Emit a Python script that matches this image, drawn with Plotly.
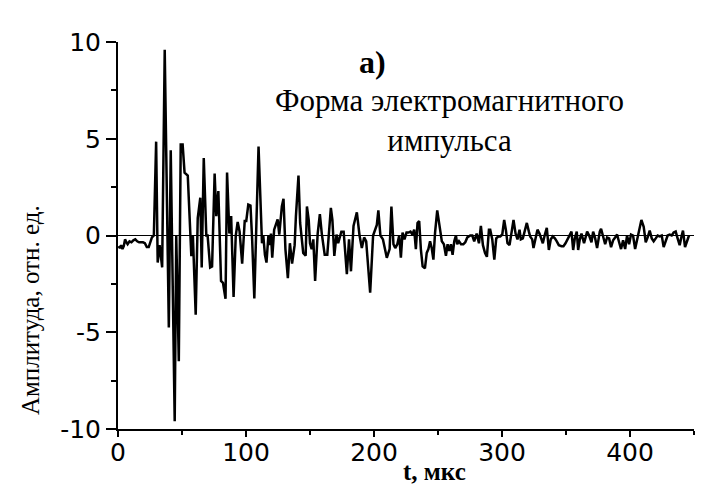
import plotly.graph_objects as go

# time, microseconds
t = [0.5, 1.5, 2.5, 3.5, 4.5, 5.5, 6.5, 7.5, 9, 10.5, 12, 13.5, 15, 16.5, 18, 19.5, 21, 22.5, 24, 25.5, 26.5, 28,
     29.8, 31, 32.5, 34.5, 36.5, 39.7, 41.2, 44.3, 45.5, 47.5, 49, 50.5, 52, 54.5, 57.3, 58.5, 59, 60.7,
     62.3, 64.3, 65.4, 67, 69, 70, 72, 73.5, 75.5, 76.8, 78.4, 80.5, 82, 84, 85.2, 87, 88.4, 90.3, 92, 93.5,
     95, 97, 99, 100.2, 101.8, 103.5, 104.8, 106.5, 109.8, 112.5, 113.5, 114.8, 116, 117.5, 118.6, 119.5,
     120.5, 122, 124.7, 126, 128, 129.3, 130.8, 132.7, 134.3, 136, 138, 139, 141, 142.3, 144.7, 146.6,
     147.6, 149, 150, 151.3, 152.6, 154, 156, 157.7, 159.2, 160.5, 161.5, 163.5, 166.3, 167.5, 169, 170.7,
     172, 174.5, 176.3, 178.8, 180.5, 182, 184, 186.6, 188.7, 190.5, 192.3, 193.9, 195.4, 197, 199.3, 200.6,
     202.2, 203.4, 205, 207, 208.6, 210, 212.2, 213.6, 215.2, 216.6, 218.2, 219.7, 221, 222.3, 223.8, 225.4,
     227, 228.5, 230, 231.4, 232.7, 234, 235.3, 236.6, 238, 239.8, 241.2, 242.5, 243.8, 245.1, 246.4, 247.7,
     249.4, 251.5, 253, 254.6, 256.2, 257.5, 258.8, 260.1, 261.4, 262.7, 264, 265, 266.4, 268, 269.8, 271.3,
     272.9, 275.2, 276.8, 278.3, 280.2, 282.0, 283.5, 285.1, 286.7, 288.2, 289.8, 290.8, 292.4, 294.0, 295.5,
     297.1, 298.6, 300.2, 301.7, 303.0, 304.3, 305.9, 307.5, 309.0, 310.6, 312.1, 313.7, 314.7, 316.3, 317.9,
     319.4, 321.0, 322.0, 323.6, 324.6, 326.2, 327.7, 329.3, 330.6, 331.9, 333.5, 335.0, 336.6, 338.1, 339.7,
     341.3, 342.8, 344.4, 346.5, 348.0, 349.6, 351.1, 352.7, 354.3, 355.6, 356.9, 358.4, 359.5, 360.8, 362.1,
     364.1, 366.5, 368.1, 369.9, 371.2, 372.8, 374.3, 376.4, 377.4, 379.0, 380.6, 382.1, 383.7, 385.2, 386.8,
     388.4, 389.9, 391.5, 393.0, 394.6, 396.2, 397.7, 399.3, 400.8, 402.4, 404.0, 405.5, 407.1, 408.9, 410.7,
     412.3, 413.8, 415.4, 417.0, 418.5, 420.1, 421.6, 423.2, 424.8, 426.3, 427.9, 429.4, 431.0, 432.6, 434.1,
     435.7, 437.2, 438.8, 440.4, 441.4, 443.0, 444.5, 446.1]

# amplitude, relative units
amp = [-0.55, -0.65, -0.5, -0.7, -0.55, -0.2, -0.35, -0.45, -0.3, -0.35, -0.25, -0.2, -0.3, -0.35, -0.35, -0.35, -0.4, -0.6, -0.6, -0.3, -0.1, 0.0,
       4.85, -1.4, -0.5, -1.65, 9.6, -4.75, 4.4, -9.6, 0.0, -6.5, 4.7, 4.7, 3.25, 3.1, -1.07, 0.0, -1.2, -4.1,
       0.9, 1.95, -1.65, 4.0, 0.0, 0.0, -1.65, -1.6, 3.2, 1.0, 2.3, -2.35, -2.45, -3.27, 3.25, 0.1, 1.0, -3.17, 0.0, 0.7,
       0.2, -1.45, 0.75, 0.75, 1.6, 1.55, -0.2, -3.25, 4.6, -0.4, 0.0, -1.0, -1.4, 0.0, -0.5, 0.1,
       -1.15, 0.3, 0.83, 0.05, 1.5, 1.9, -0.7, -2.2, -0.4, -1.45, -0.5, 1.0, 3.1, 0.65, -0.9, -1.05,
       1.5, 0.8, -0.4, -0.7, -0.2, -2.35, 0.1, 1.1, 0.1, -0.4, -1.0, -1.0, 1.43, 0.8, -1.05, 0.05,
       -0.4, 0.2, 0.2, -2.0, -0.2, -1.85, 0.5, 1.2, 0.0, -0.65, -0.1, -0.3, -1.75, -2.95, 0.0, 0.3,
       0.55, 1.3, 0.0, -0.2, -0.8, -1.15, -0.7, 1.5, -0.45, -0.65, -0.45, 0.0, -1.15, 0.15, -0.2, 0.15,
       0.15, 0.2, 0.05, 0.3, -0.7, 0.65, 0.75, -0.7, -1.6, -1.7, -0.9, -0.7, -0.3, -0.65, -1.25, 0.15,
       1.3, 0.4, -0.3, -0.45, -1.05, -0.45, -0.8, -0.45, -1.0, -0.3, 0.0, -0.45, -0.3, -0.45, -0.45, -0.35,
       -0.1, 0.0, 0.0, -0.3, 0.1, -0.4, 0.5, -0.5, -0.9, -1.1, 0.3, 0.3, -0.2, -1.25, -0.15,
       -0.05, -0.05, 0.05, 0.8, 0.3, -0.4, -0.5, 0.1, 0.8, 0.1, -0.2, 0.3, -0.2, -0.15, 0.3,
       0.65, 0.2, -0.05, -0.2, -0.65, -0.15, 0.3, 0.1, -0.2, -0.4, 0.05, 0.4, -0.75, -0.2, -0.05,
       -0.15, -0.3, -0.5, -0.55, -0.55, -0.4, -0.2, 0.05, 0.2, -0.75, -0.15, 0.2, -0.75, -0.2, 0.1,
       -0.4, 0.2, 0.0, -0.35, 0.2, -0.15, -0.65, 0.2, 0.35, 0.0, -0.45, -0.1, -0.15, -0.6, -0.25,
       -0.1, 0.05, -0.35, -0.7, -0.25, -0.7, 0.0, -0.45, 0.05, 0.0, -0.7, -0.25, 0.2, 0.8, 0.45,
       -0.35, -0.1, 0.25, -0.15, -0.3, -0.15, 0.0, -0.05, 0.0, -0.6, -0.25, 0.0, 0.05, 0.0, 0.15,
       0.2, -0.15, -0.5, 0.0, 0.25, -0.6, -0.25, 0.0]

x_ticks = [0, 100, 200, 300, 400]
x_ticktext = ["0", "100", "200", "300", "400"]
y_ticks = [-10, -5, 0, 5, 10]
y_ticktext = ["-10", "-5", "0", "5", "10"]

title_label = "а)"
title_lines = ["Форма электромагнитного", "импульса"]
x_title = "t, мкс"
y_title = "Амплитуда, отн. ед."

fig = go.Figure()
fig.add_trace(go.Scatter(x=t, y=amp, mode="lines",
                         line=dict(color="black", width=2.5), showlegend=False))

fig.add_shape(type="line", xref="x", yref="y", x0=0, x1=455, y0=0, y1=0,
              line=dict(color="black", width=1), layer="below")

tickfont = dict(family="DejaVu Sans", size=25, color="black")
fig.update_layout(
    width=719, height=486,
    margin=dict(l=118, r=25, t=42, b=57),
    paper_bgcolor="white", plot_bgcolor="white",
    xaxis=dict(range=[0, 450], tickvals=x_ticks, ticktext=x_ticktext, showgrid=False, zeroline=False,
               showline=True, linecolor="black", linewidth=1.5,
               ticks="outside", ticklen=6, tickwidth=1.5, tickcolor="black",
               ticklabelstandoff=-6,
               minor=dict(dtick=50, ticks="outside", ticklen=4, tickwidth=1.5, tickcolor="black"),
               tickfont=tickfont),
    yaxis=dict(range=[-10, 10], tickvals=y_ticks, ticktext=y_ticktext, showgrid=False, zeroline=False,
               showline=True, linecolor="black", linewidth=2,
               ticks="outside", ticklen=10, tickwidth=1.5, tickcolor="black",
               minor=dict(dtick=2.5, ticks="outside", ticklen=5, tickwidth=1.5, tickcolor="black"),
               tickfont=tickfont),
)

serif = "Times New Roman, Liberation Serif, DejaVu Serif, serif"
fig.add_annotation(text="<b>" + title_label + "</b>", xref="paper", yref="paper", x=0.441, y=(429 - 62) / 387,
                   showarrow=False, xanchor="center", yanchor="middle",
                   font=dict(family=serif, size=32, color="black"))
fig.add_annotation(text="<br>".join(title_lines), xref="paper", yref="paper", x=(449 - 118) / 576,
                   y=(429 - 120) / 387, align="center",
                   showarrow=False, xanchor="center", yanchor="middle",
                   font=dict(family=serif, size=31, color="black"))
fig.add_annotation(text="<b>" + x_title + "</b>", xref="paper", yref="paper", x=(434 - 118) / 576, y=(429 - 471) / 387,
                   showarrow=False, xanchor="center", yanchor="middle",
                   font=dict(family=serif, size=25, color="black"))
fig.add_annotation(text=y_title, xref="paper", yref="paper", x=(30 - 118) / 576, y=(429 - 310) / 387,
                   showarrow=False, xanchor="center", yanchor="middle", textangle=-90,
                   font=dict(family=serif, size=25, color="black"))

fig.write_html("out.html")
